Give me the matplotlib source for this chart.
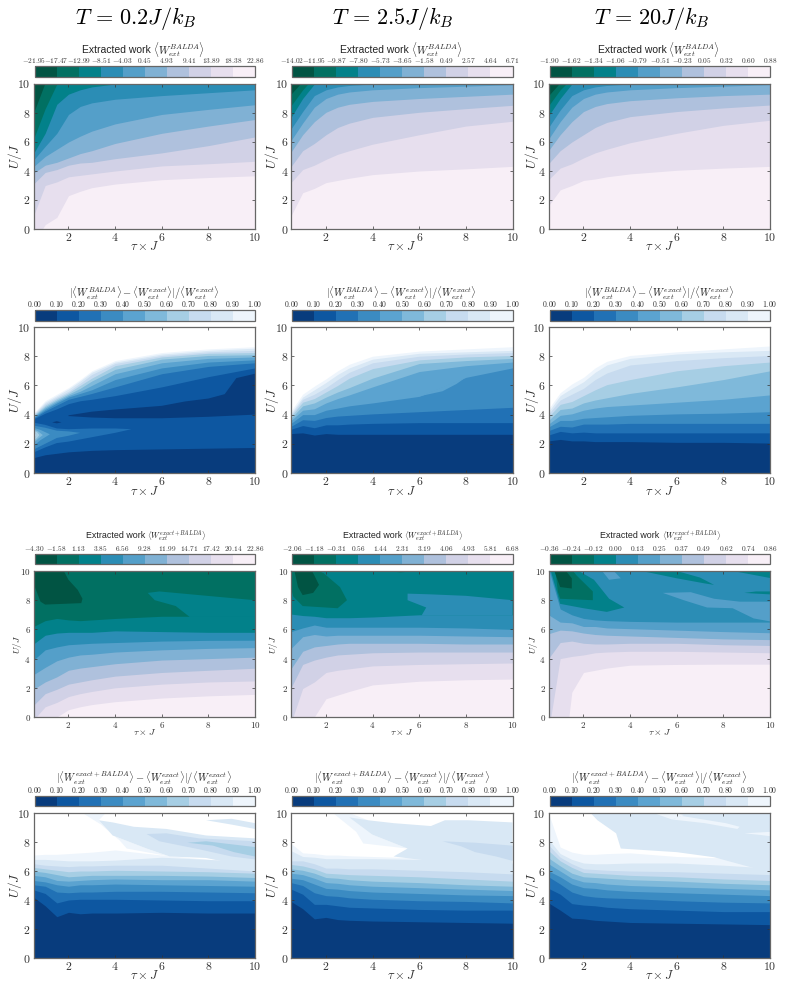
import matplotlib
matplotlib.use('Agg')
import matplotlib.pyplot as plt
from matplotlib.cm import ScalarMappable
from matplotlib.colors import BoundaryNorm, ListedColormap

plt.rcParams['mathtext.fontset'] = 'cm'
plt.rcParams['font.family'] = ['Liberation Sans', 'DejaVu Sans']

W, H = 790, 988

# tau grid on which every contour edge was read
tau = [0.5, 1, 1.5, 2, 2.5, 3, 4, 6, 8, 10]
temps = ['0.2', '2.5', '20']

# colourbar levels
lev_balda_t02 = [-21.95, -17.47, -12.99, -8.51, -4.03, 0.45, 4.93, 9.41, 13.89, 18.38, 22.86]
lev_balda_t25 = [-14.02, -11.95, -9.87, -7.80, -5.73, -3.65, -1.58, 0.49, 2.57, 4.64, 6.71]
lev_balda_t20 = [-1.90, -1.62, -1.34, -1.06, -0.79, -0.51, -0.23, 0.05, 0.32, 0.60, 0.88]
lev_hyb_t02 = [-4.30, -1.58, 1.13, 3.85, 6.56, 9.28, 11.99, 14.71, 17.42, 20.14, 22.86]
lev_hyb_t25 = [-2.06, -1.18, -0.31, 0.56, 1.44, 2.31, 3.19, 4.06, 4.93, 5.81, 6.68]
lev_hyb_t20 = [-0.36, -0.24, -0.12, 0.00, 0.13, 0.25, 0.37, 0.49, 0.62, 0.74, 0.86]
lev_err = [0.00, 0.10, 0.20, 0.30, 0.40, 0.50, 0.60, 0.70, 0.80, 0.90, 1.00]

# contour edges U(tau), lowest edge first
balda_t02 = [
    [-1, .3, .8, 2.3, 2.6, 2.85, 3.1, 3.4, 3.55, 3.67],
    [.9, 3.0, 3.25, 3.6, 3.7, 3.8, 4.0, 4.35, 4.5, 4.67],
    [3.1, 3.9, 4.1, 4.4, 4.55, 4.6, 4.85, 5.25, 5.75, 6.35],
    [3.85, 4.4, 4.6, 4.9, 5.2, 5.4, 5.9, 6.6, 7.1, 7.55],
    [4.3, 5.0, 5.5, 6.0, 6.4, 6.75, 7.25, 7.9, 8.25, 8.57],
    [4.75, 5.7, 6.6, 7.9, 8.45, 8.7, 8.95, 9.2, 9.4, 9.6],
    [5.2, 6.6, 8.6, 9.3, 9.6, 9.8, 10.0, 10.2, 10.3, 10.4],
    [6.2, 8.3, 10.0, 10.6, 11, 11, 11, 11, 11, 11],
    [8.0, 10.1, 12, 12, 12, 12, 12, 12, 12, 12],
]
balda_t25 = [
    [.9, 2.5, 2.8, 3.2, 3.35, 3.5, 3.75, 4.0, 4.15, 4.32],
    [3.2, 4.1, 4.4, 4.8, 5.15, 5.4, 5.85, 6.5, 7.1, 7.43],
    [4.3, 5.4, 5.9, 6.5, 7.0, 7.3, 7.7, 8.05, 8.3, 8.53],
    [5.3, 6.5, 7.4, 8.05, 8.4, 8.6, 8.8, 9.0, 9.15, 9.3],
    [6.1, 7.3, 8.4, 9.0, 9.3, 9.45, 9.6, 9.75, 9.85, 9.95],
    [6.9, 8.1, 9.2, 9.6, 9.8, 9.9, 10.0, 10.05, 10.1, 10.2],
    [7.7, 9.0, 10.0, 10.3, 10.5, 11, 11, 11, 11, 11],
    [8.5, 9.6, 10.5, 11, 11, 11, 11, 11, 11, 11],
    [9.3, 10.2, 11, 11, 11, 11, 11, 11, 11, 11],
]
balda_t20 = [
    [1.6, 2.7, 3.0, 3.35, 3.45, 3.6, 3.8, 4.05, 4.2, 4.32],
    [3.4, 4.2, 4.5, 4.9, 5.25, 5.5, 5.95, 6.6, 7.15, 7.5],
    [4.5, 5.4, 6.0, 6.5, 7.0, 7.35, 7.75, 8.1, 8.35, 8.55],
    [5.4, 6.5, 7.4, 8.1, 8.45, 8.65, 8.85, 9.05, 9.2, 9.3],
    [6.2, 7.4, 8.4, 9.0, 9.3, 9.45, 9.6, 9.75, 9.85, 9.95],
    [7.0, 8.2, 9.2, 9.6, 9.8, 9.9, 10.0, 10.05, 10.1, 10.2],
    [7.8, 9.0, 10.0, 10.3, 10.5, 11, 11, 11, 11, 11],
    [8.5, 9.6, 10.4, 11, 11, 11, 11, 11, 11, 11],
    [9.2, 10.1, 11, 11, 11, 11, 11, 11, 11, 11],
]
err_balda_t02 = [
    [1.05, 1.25, 1.35, 1.45, 1.5, 1.55, 1.6, 1.65, 1.7, 1.75],
    [3.7, 4.1, 4.4, 4.75, 4.95, 5.05, 5.3, 5.9, 6.6, 7.2],
    [3.75, 4.25, 4.65, 5.05, 5.25, 5.45, 5.9, 6.8, 7.3, 7.55],
    [3.8, 4.35, 4.8, 5.2, 5.45, 5.7, 6.4, 7.2, 7.6, 7.75],
    [3.85, 4.45, 4.9, 5.3, 5.6, 6.0, 6.8, 7.55, 7.85, 7.95],
    [3.9, 4.55, 5.0, 5.4, 5.8, 6.3, 7.1, 7.8, 8.05, 8.1],
    [3.95, 4.65, 5.1, 5.5, 6.0, 6.5, 7.35, 7.95, 8.2, 8.25],
    [4.0, 4.75, 5.2, 5.6, 6.15, 6.75, 7.5, 8.05, 8.3, 8.4],
    [4.05, 4.85, 5.3, 5.75, 6.3, 6.9, 7.6, 8.15, 8.4, 8.55],
    [4.1, 4.95, 5.4, 5.85, 6.4, 7.0, 7.7, 8.25, 8.5, 8.65],
]
err_balda_t25 = [
    [2.7, 2.75, 2.6, 2.7, 2.65, 2.65, 2.65, 2.65, 2.65, 2.65],
    [3.0, 3.25, 3.1, 3.3, 3.3, 3.35, 3.4, 3.45, 3.45, 3.45],
    [3.2, 3.65, 3.6, 3.8, 3.9, 3.95, 4.05, 4.2, 4.35, 4.5],
    [3.4, 4.0, 4.0, 4.3, 4.45, 4.6, 4.8, 5.25, 6.55, 7.2],
    [3.6, 4.3, 4.4, 4.8, 5.1, 5.35, 5.9, 6.95, 7.35, 7.6],
    [3.75, 4.6, 4.8, 5.2, 5.55, 5.85, 6.5, 7.5, 7.7, 7.85],
    [3.9, 4.85, 5.1, 5.55, 6.0, 6.5, 7.15, 7.75, 7.95, 8.05],
    [4.0, 5.05, 5.4, 5.85, 6.4, 6.9, 7.55, 8.0, 8.15, 8.25],
    [4.1, 5.2, 5.7, 6.2, 6.75, 7.2, 7.8, 8.2, 8.3, 8.4],
    [4.25, 5.4, 5.95, 6.45, 7.0, 7.45, 8.0, 8.35, 8.5, 8.65],
]
err_balda_t20 = [
    [2.2, 2.3, 2.2, 2.2, 2.15, 2.15, 2.15, 2.1, 2.1, 2.05],
    [2.6, 2.85, 2.75, 2.8, 2.75, 2.75, 2.75, 2.75, 2.75, 2.75],
    [2.9, 3.2, 3.15, 3.35, 3.35, 3.35, 3.4, 3.4, 3.4, 3.4],
    [3.15, 3.6, 3.6, 3.75, 3.8, 3.85, 3.95, 4.05, 4.1, 4.2],
    [3.35, 3.95, 4.05, 4.3, 4.45, 4.55, 4.65, 4.85, 5.05, 5.35],
    [3.6, 4.35, 4.45, 4.8, 5.0, 5.15, 5.45, 5.9, 6.4, 7.0],
    [3.85, 4.7, 4.9, 5.3, 5.7, 6.05, 6.4, 7.0, 7.35, 7.6],
    [4.05, 5.0, 5.4, 5.8, 6.4, 6.85, 7.4, 7.7, 7.9, 8.05],
    [4.2, 5.3, 5.8, 6.25, 6.9, 7.4, 7.85, 8.15, 8.3, 8.4],
    [4.4, 5.5, 6.1, 6.55, 7.2, 7.65, 8.05, 8.3, 8.5, 8.7],
]
hyb_t02 = [
    [-1.5, -.7, 0, .5, .7, .85, 1.05, 1.3, 1.45, 1.55],
    [-.2, .7, 1.0, 1.4, 1.6, 1.75, 2.0, 2.25, 2.4, 2.47],
    [.8, 1.6, 1.9, 2.25, 2.4, 2.55, 2.8, 3.05, 3.2, 3.34],
    [1.9, 2.4, 2.75, 3.2, 3.35, 3.45, 3.65, 3.9, 4.0, 4.1],
    [2.9, 3.4, 3.85, 4.1, 4.25, 4.3, 4.45, 4.6, 4.7, 4.75],
    [3.9, 4.6, 4.8, 4.95, 5.0, 5.05, 5.1, 5.2, 5.25, 5.26],
    [5.0, 5.6, 5.75, 5.8, 5.8, 5.8, 5.9, 5.85, 5.8, 5.8],
    [6.2, 6.6, 6.75, 6.65, 6.6, 6.65, 6.75, 6.9, 6.9, 6.9],
]
hyb_t25 = [
    [-2.5, -.9, 0, 1.25, 1.5, 1.75, 2.2, 2.45, 2.55, 2.6],
    [-.4, 1.95, 2.4, 3.05, 3.2, 3.3, 3.5, 3.6, 3.65, 3.7],
    [2.0, 3.6, 3.9, 4.1, 4.25, 4.3, 4.4, 4.45, 4.45, 4.45],
    [3.3, 4.5, 4.8, 4.9, 5.0, 5.05, 5.05, 5.05, 5.0, 5.0],
    [4.7, 5.5, 5.65, 5.55, 5.6, 5.6, 5.6, 5.6, 5.55, 5.5],
    [5.85, 6.1, 6.3, 6.15, 6.15, 6.15, 6.15, 6.15, 6.1, 6.0],
    [7.05, 6.95, 6.9, 6.8, 6.8, 6.8, 6.85, 7.0, 7.0, 7.0],
]
hyb_t20 = [
    [-15, -5, 1.7, 3.05, 3.2, 3.35, 3.55, 3.6, 3.62, 3.62],
    [-1, 4.0, 4.15, 4.25, 4.4, 4.45, 4.5, 4.5, 4.45, 4.4],
    [4.0, 5.1, 5.2, 5.05, 5.0, 5.0, 5.05, 5.05, 4.95, 4.9],
    [5.7, 5.95, 5.9, 5.75, 5.65, 5.6, 5.55, 5.45, 5.35, 5.3],
    [7.0, 6.5, 6.45, 6.2, 6.2, 6.1, 6.05, 5.95, 5.85, 5.77],
    [10.2, 7.4, 7.0, 6.75, 6.65, 6.6, 6.55, 6.5, 6.5, 6.5],
]
err_hyb_t02 = [
    [4.2, 3.6, 2.85, 3.15, 3.05, 3.1, 3.1, 3.15, 3.1, 3.1],
    [4.7, 4.45, 3.8, 4.0, 4.05, 4.05, 4.05, 4.0, 3.95, 3.95],
    [5.05, 4.95, 4.55, 4.5, 4.55, 4.55, 4.6, 4.6, 4.55, 4.5],
    [5.35, 5.25, 5.05, 4.95, 5.05, 5.05, 5.1, 5.05, 5.0, 4.95],
    [5.7, 5.6, 5.35, 5.3, 5.35, 5.4, 5.45, 5.4, 5.4, 5.3],
    [6.0, 5.9, 5.75, 5.6, 5.65, 5.7, 5.7, 5.7, 5.65, 5.55],
    [6.25, 6.15, 6.05, 5.95, 6.0, 6.0, 6.05, 6.0, 5.95, 5.85],
    [6.5, 6.4, 6.35, 6.3, 6.35, 6.35, 6.4, 6.4, 6.2, 6.0],
    [6.8, 6.8, 6.75, 6.7, 6.7, 6.7, 6.75, 6.95, 6.8, 6.6],
    [7.1, 7.15, 7.15, 7.2, 7.25, 7.3, 7.45, 7.1, 6.8, 6.6],
]
err_hyb_t25 = [
    [3.9, 3.4, 2.7, 2.8, 2.65, 2.6, 2.55, 2.5, 2.45, 2.4],
    [4.75, 4.4, 3.7, 3.7, 3.6, 3.5, 3.45, 3.35, 3.3, 3.3],
    [5.2, 5.0, 4.5, 4.3, 4.25, 4.15, 4.05, 3.95, 3.9, 3.8],
    [5.5, 5.4, 5.1, 4.8, 4.75, 4.65, 4.55, 4.45, 4.35, 4.3],
    [5.85, 5.75, 5.5, 5.2, 5.15, 5.05, 4.95, 4.85, 4.75, 4.65],
    [6.15, 6.05, 5.85, 5.55, 5.5, 5.4, 5.3, 5.2, 5.05, 4.95],
    [6.45, 6.35, 6.15, 5.85, 5.8, 5.75, 5.7, 5.6, 5.45, 5.3],
    [6.7, 6.7, 6.5, 6.2, 6.2, 6.15, 6.15, 6.05, 5.95, 5.8],
    [7.4, 7.0, 6.95, 6.85, 6.85, 6.85, 6.85, 6.8, 6.7, 6.5],
    [7.9, 7.25, 7.2, 7.1, 7.1, 7.05, 7.0, 6.9, 6.8, 6.6],
]
err_hyb_t20 = [
    [3.8, 3.3, 2.75, 2.7, 2.6, 2.55, 2.45, 2.4, 2.35, 2.3],
    [4.8, 4.4, 3.75, 3.65, 3.6, 3.5, 3.4, 3.3, 3.2, 3.2],
    [5.6, 5.1, 4.55, 4.3, 4.2, 4.15, 4.1, 3.95, 3.85, 3.8],
    [6.0, 5.6, 5.1, 4.85, 4.8, 4.7, 4.6, 4.5, 4.4, 4.3],
    [6.5, 6.0, 5.5, 5.25, 5.2, 5.1, 5.0, 4.9, 4.8, 4.7],
    [6.9, 6.35, 5.85, 5.6, 5.55, 5.5, 5.4, 5.3, 5.15, 5.05],
    [7.4, 6.7, 6.25, 5.9, 5.85, 5.8, 5.7, 5.6, 5.45, 5.35],
    [7.8, 6.95, 6.5, 6.15, 6.1, 6.05, 6.0, 5.95, 5.85, 5.75],
    [8.2, 7.2, 6.8, 6.55, 6.5, 6.5, 6.55, 6.55, 6.4, 6.2],
    [10, 7.65, 7.3, 7.15, 7.15, 7.2, 7.25, 7.0, 6.9, 6.5],
]

# closed regions the edges above cannot describe: (band, tau values, U values)
isl_err_balda_t02 = [
    (2, [.5, 1, 1.5, 2, 3, 4, 4.7, 4, 3, 2, 1.5, 1, .5], [3.45, 3.3, 3.05, 3.0, 3.05, 3.05, 3.0, 2.75, 2.45, 2.15, 2.05, 1.75, 1.4]),
    (3, [.5, 1, 1.5, 2, 2.5, 2, 1.5, 1, .5], [3.25, 3.1, 2.9, 2.85, 2.75, 2.55, 2.4, 2.0, 1.6]),
    (4, [.5, .8, 1.2, .8, .5], [3.1, 2.95, 2.65, 2.25, 1.85]),
    (5, [.5, .7, .9, .7, .5], [3.0, 2.85, 2.6, 2.35, 2.05]),
    (6, [.5, .65, .75, .65, .5], [2.9, 2.8, 2.6, 2.4, 2.2]),
    (7, [.5, .6, .5], [2.8, 2.6, 2.35]),
    (0, [2, 3, 4, 6, 7, 8, 8.7, 9.2, 10, 10, 8, 6, 4, 3, 2], [3.95, 4.2, 4.35, 4.6, 4.9, 5.1, 5.4, 6.5, 6.8, 4.0, 3.85, 3.75, 3.75, 3.8, 3.9]),
    (0, [1.3, 1.5, 1.7, 1.5], [3.47, 3.55, 3.47, 3.4]),
]
isl_err_balda_t25 = [
    (4, [6, 7, 7.6, 8], [5.25, 5.6, 6.1, 6.55]),
]
isl_hyb_t02 = [
    (2, [5.4, 5.9, 7.6, 10, 10, 7.2, 6.6, 5.7], [8.5, 8.6, 8.35, 8.0, 6.85, 6.85, 7.6, 8.0]),
    (0, [.5, .8, 1, 2.55, 2.6, 2.4, 2, 1.8, .5], [9.15, 7.9, 7.7, 7.8, 8.1, 8.7, 9.4, 10, 10]),
]
isl_hyb_t25 = [
    (3, [5.5, 6.5, 8, 10, 10, 6.1, 6.3, 5.5], [8.45, 8.4, 8.3, 8.0, 6.95, 6.95, 7.5, 8.0]),
    (1, [.5, .6, 1, 2.5, 2.9, 2.6, 1.9, 1.7, .5], [8.8, 8.25, 7.6, 7.45, 8.0, 8.9, 9.85, 10, 10]),
    (0, [.65, .8, 1, 1.45, 1.7, 1.5, 1.4], [10, 8.9, 8.35, 8.5, 9.05, 9.7, 10]),
    (1, [4.7, 5.2, 5.8], [10, 9.9, 10]),
]
isl_hyb_t20 = [
    (4, [2.8, 3.3, 3.6, 3.1], [10, 10, 9.5, 9.4]),
    (4, [5.4, 6.6, 7.6, 8.7, 10, 10, 9.3, 8.4, 7.3, 6.3], [8.5, 8.55, 8.1, 7.9, 7.9, 6.55, 6.75, 7.45, 7.5, 8.0]),
    (2, [.6, .85, 1, 2, 3, 3.75, 3.1, 2.45, 1.8], [10, 8.6, 7.75, 7.45, 7.2, 7.5, 8.1, 9.4, 10]),
    (1, [.8, .9, 1, 2.4, 2.4, 1.7, 1.55], [10, 8.6, 8.1, 8.0, 8.6, 9.7, 10]),
    (0, [.75, 1, 1.5, 1.5, 1.25], [10, 8.9, 8.8, 9.5, 10]),
    (2, [4.5, 6.0, 7.2, 7.6, 7.0, 6.0], [10, 9.5, 9.15, 9.05, 9.55, 10]),
    (2, [8.4, 10, 10], [10, 10, 9.5]),
    (2, [8.9, 9.4, 10, 10, 9.4], [8.5, 8.6, 8.6, 8.4, 8.45]),
]
isl_err_hyb_t02 = [
    (9, [2.6, 3.6, 3.3, 3.9, 5.35, 6.35, 4.5, 4.2, 3.4], [10, 10, 9.5, 8.45, 7.55, 7.0, 7.55, 8.1, 9.2]),
    (8, [3.3, 3.9, 4.8, 6.2, 7.9, 10, 10, 9.1, 7.9, 6.35, 5.35, 3.9], [9.5, 9.35, 9.05, 8.9, 8.45, 8.25, 5.9, 6.5, 6.9, 7.0, 7.55, 8.45]),
    (8, [7.9, 9, 10, 10, 9], [9.5, 9.6, 9.3, 8.9, 9.2]),
    (7, [5.35, 6.2, 7.6, 10, 10, 9, 7.6, 5.9], [8.55, 8.6, 8.25, 8.05, 6.8, 7.0, 7.5, 8.05]),
    (6, [7.1, 7.9, 10, 10, 9.1, 8.2], [7.95, 8.05, 7.65, 7.0, 7.3, 7.75]),
]
isl_err_hyb_t25 = [
    (9, [2.3, 3.0, 3.8, 4.0, 5.5, 3.6, 3.3], [10, 10, 9.5, 8.5, 7.55, 7.9, 8.7]),
    (8, [3.0, 3.8, 4.9, 6.5, 7.1, 8.1, 10, 10, 4.9, 5.5, 4.0], [9.7, 9.5, 9.3, 9.1, 9.5, 9.5, 9.35, 6.0, 7.0, 7.55, 8.5]),
    (7, [7.0, 8.4, 10, 10, 9.3, 8.4, 7.8], [8.05, 7.95, 7.75, 6.7, 7.0, 7.3, 7.7]),
]
isl_err_hyb_t20 = [
    (8, [2.3, 10, 10, 7.6, 6.0, 3.6, 3.4, 2.6], [10, 10, 5.9, 6.95, 7.3, 7.55, 8.6, 9.5]),
    (9, [5.8, 6.2, 8.1, 8.7, 8.6, 7.2], [9.55, 9.8, 9.3, 9.05, 8.9, 9.3]),
    (9, [5.0, 6.0, 6.3, 5.8], [10, 10, 9.85, 9.55]),
    (9, [8.9, 10, 10, 9.5], [8.6, 8.7, 8.4, 8.5]),
]

work_math = r'$\langle W_{ext}^{%s}\rangle$'
err_title = r'$|\langle W_{ext}^{%s}\rangle - \langle W_{ext}^{exact}\rangle|/\langle W_{ext}^{exact}\rangle$'

# rows: y of axes top/bottom and colourbar top/bottom in pixels
rows = [
    dict(top=84, bot=229, ctop=66.5, cbot=77, cmap='PuBuGn_r', word=7.5, split=7, math=work_math % 'BALDA', mfs=7.8, lab=9, ulab=9.5, tick=8.5, cfs=5.3,
         levels=[lev_balda_t02, lev_balda_t25, lev_balda_t20], edges=[balda_t02, balda_t25, balda_t20], isl=[[], [], []], tpad=50, lpad=247),
    dict(top=327, bot=473, ctop=310.5, cbot=320.5, cmap='Blues_r', word=0, split=0, math=err_title % 'BALDA', mfs=7.5, lab=9, ulab=9.5, tick=8.5, cfs=5.6,
         levels=[lev_err] * 3, edges=[err_balda_t02, err_balda_t25, err_balda_t20], isl=[isl_err_balda_t02, isl_err_balda_t25, []], tpad=293, lpad=491),
    dict(top=571, bot=717, ctop=554, cbot=564, cmap='PuBuGn_r', word=6.4, split=0.5, math=work_math % 'exact+BALDA', mfs=5.9, lab=7, ulab=6.8, tick=6.5, cfs=5.3,
         levels=[lev_hyb_t02, lev_hyb_t25, lev_hyb_t20], edges=[hyb_t02, hyb_t25, hyb_t20], isl=[isl_hyb_t02, isl_hyb_t25, isl_hyb_t20], tpad=536, lpad=732),
    dict(top=813, bot=958, ctop=796, cbot=806, cmap='Blues_r', word=0, split=0, math=err_title % 'exact+BALDA', mfs=7.5, lab=9, ulab=9.5, tick=8.5, cfs=5.6,
         levels=[lev_err] * 3, edges=[err_hyb_t02, err_hyb_t25, err_hyb_t20], isl=[isl_err_hyb_t02, isl_err_hyb_t25, isl_err_hyb_t20], tpad=778, lpad=975),
]
cols = [(33.5, 255), (291, 512.5), (548.5, 770)]
ylab_x = [15, 272, 532]
title_x = [136, 393, 652]
GREY = '#666666'


def px_axes(fig, x0, x1, y0, y1):
    return fig.add_axes([x0 / W, 1 - y1 / H, (x1 - x0) / W, (y1 - y0) / H])


fig = plt.figure(figsize=(W / 100, H / 100), dpi=100)

for t, x in zip(temps, title_x):
    fig.text(x / W, 1 - 18 / H, r'$T\,=\,%sJ/k_B$' % t, ha='center', va='center', fontsize=16)

for r in rows:
    cmap = plt.get_cmap(r['cmap'])
    bands = [cmap((i + 0.5) / 10) for i in range(10)]
    for c, (x0, x1) in enumerate(cols):
        ax = px_axes(fig, x0, x1, r['top'], r['bot'])
        edges = r['edges'][c]
        # purple maps start light at the bottom, blue maps start dark
        first, step = (9, -1) if r['cmap'] == 'PuBuGn_r' else (0, 1)
        top_band = first + step * len(edges)
        ax.set_facecolor(bands[top_band] if 0 <= top_band <= 9 else 'white')
        for k in range(len(edges) - 1, -1, -1):
            ax.fill_between(tau, -20, edges[k], color=bands[first + step * k], lw=0)
        for band, xs, ys in r['isl'][c]:
            ax.fill(xs, ys, color=bands[band], lw=0)
        ax.set_xlim(0.5, 10)
        ax.set_ylim(0, 10)
        ax.set_xticks([2, 4, 6, 8, 10])
        ax.set_xticklabels(['$%d$' % v for v in [2, 4, 6, 8, 10]], fontsize=r['tick'])
        ax.set_yticks([0, 2, 4, 6, 8, 10])
        ax.set_yticklabels(['$%d$' % v for v in [0, 2, 4, 6, 8, 10]], fontsize=r['tick'])
        ax.tick_params(direction='in', top=True, right=True, length=2.5, width=0.5, color='#333333', labelcolor='#333333', pad=2)
        for s in ax.spines.values():
            s.set_color(GREY)
            s.set_linewidth(0.9)
        fig.text((x0 + x1) / 2 / W, 1 - r['lpad'] / H, r'$\tau \times J$', ha='center', va='center', fontsize=r['lab'], color='#333333')
        fig.text((ylab_x[c] + (2 if r['lab'] < 8 else 0)) / W, 1 - (r['top'] + r['bot']) / 2 / H, r'$U/J$', ha='center', va='center',
                 rotation=90, fontsize=r['ulab'], color='#333333')

        levels = r['levels'][c]
        cax = px_axes(fig, x0 + 1, x1, r['ctop'], r['cbot'])
        sm = ScalarMappable(BoundaryNorm(levels, 10), ListedColormap(bands))
        cb = fig.colorbar(sm, cax=cax, orientation='horizontal', spacing='uniform', ticks=levels)
        cb.ax.xaxis.set_ticks_position('top')
        cb.ax.set_xticklabels(['$%.2f$' % v for v in levels], fontsize=r['cfs'])
        cb.ax.tick_params(length=0, pad=1, labelcolor='#333333')
        cb.outline.set_edgecolor(GREY)
        cb.outline.set_linewidth(0.9)
        cb.ax.minorticks_off()

        xc = (x0 + x1) / 2
        if r['word']:
            fig.text((xc + r['split']) / W, 1 - r['tpad'] / H, 'Extracted work', ha='right', va='center', fontsize=r['word'], color='#222222')
            fig.text((xc + r['split'] + 2) / W, 1 - r['tpad'] / H, r['math'], ha='left', va='center', fontsize=r['mfs'], color='#222222')
        else:
            fig.text(xc / W, 1 - r['tpad'] / H, r['math'], ha='center', va='center', fontsize=r['mfs'], color='#222222')

fig.savefig('out.png', dpi=100)
